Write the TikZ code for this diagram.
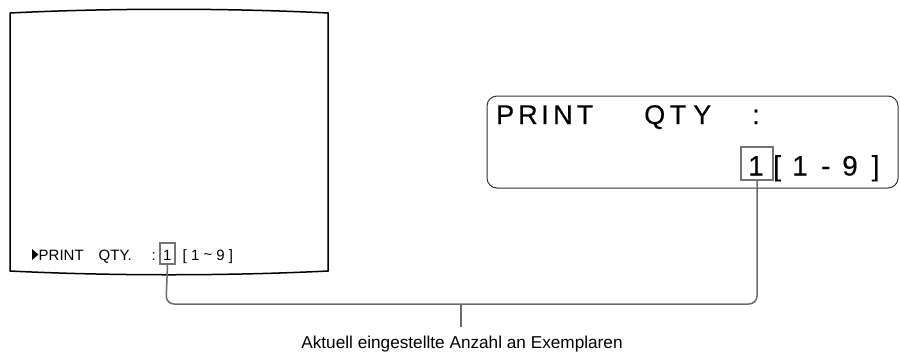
\documentclass[tikz,border=0pt]{standalone}
\usepackage{fontspec}
\setmainfont{Liberation Sans}
\newfontfamily\heavy[FakeBold=0.3]{Liberation Sans}
\begin{document}
\begin{tikzpicture}[x=1pt,y=-1pt,
  small/.style={font=\fontsize{15}{15}\selectfont,inner sep=0pt,anchor=base west},
  bigA/.style={font=\heavy\fontsize{27}{27}\selectfont,inner sep=0pt,anchor=base west},
  bigB/.style={font=\heavy\fontsize{28}{28}\selectfont,inner sep=0pt,anchor=base west},
  selbox/.style={draw=black!55,line width=1.3pt,inner sep=0pt},
  link/.style={draw=black!58,line width=1.5pt,rounded corners=8pt},
  screen/.style={draw=black,line width=1.5pt},
  panel/.style={draw=black!80,line width=1pt,rounded corners=10pt}]
\useasboundingbox (0,0) rectangle (901,354);
% TV screen
\draw[screen] (10,13) .. controls (110,8) and (228,8) .. (328,13)
  -- (328,271) .. controls (228,276) and (110,276) .. (10,271) -- cycle;
% screen text
\fill[black] (32,249) -- (38.5,254.5) -- (32,260) -- cycle;
\node[small] (lp) at (38.5,260) {PRINT};
\node[small] (lq) at (98.5,260) {QTY.};
\node[small] (lc) at (151.5,260) {:};
\node[selbox,minimum width=15pt,minimum height=21pt] (lsel) at (167.5,253.5) {};
\node[small] (l1) at (163,260) {1};
\node[small] (lr) at (182.5,260) {[ 1 \raisebox{0.5pt}{\char"7E} 9 ]};
% display panel
\draw[panel] (487,96) rectangle (898,188);
\foreach \c/\x [count=\i] in {P/496,R/518,I/541,N/553,T/576.5,Q/644,T/669.5,Y/693,:/752}
  \node[bigA] (t\i) at (\x,124) {\c};
\node[selbox,minimum width=32pt,minimum height=33pt] (rsel) at (757,163.5) {};
\foreach \c/\x [count=\i] in {1/748,[/773,1/792,-/821,9/842,]/871.5}
  \node[bigB] (s\i) at (\x,175.5) {\c};
% connector
\draw[link] (lsel.south) -- (166,304) -- (757,304) -- (rsel.south);
\coordinate (mid) at (461,304);
\node[font=\fontsize{17.2}{17.2}\selectfont,inner sep=0pt,anchor=base] (lab) at (462,348.5) {Aktuell eingestellte Anzahl an Exemplaren};
\draw[draw=black!58,line width=1.5pt] (mid) -- (461,327);
\end{tikzpicture}
\end{document}
